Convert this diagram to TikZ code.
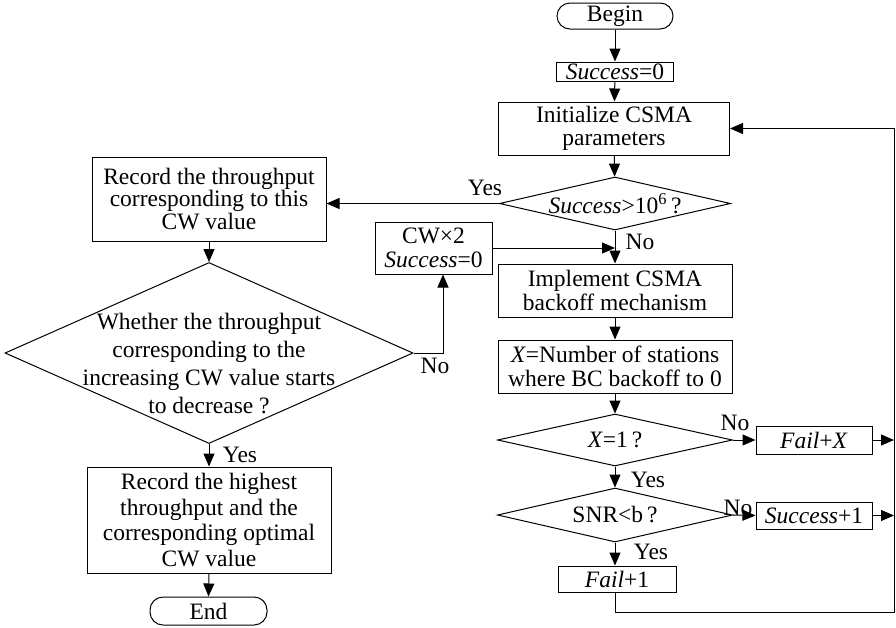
\documentclass[tikz,border=0pt]{standalone}
\usepackage{fontspec}
\setmainfont{Liberation Serif}
\usetikzlibrary{shapes.geometric,arrows.meta}
\tikzset{
  base/.style={draw, line width=1pt, inner sep=0pt, align=center,
    font=\fontsize{23.5}{23.5}\selectfont},
  box/.style={base, rectangle},
  term/.style={base, rectangle, rounded corners=13pt},
  dia/.style={draw, line width=1pt, diamond, inner sep=0pt},
  txt/.style={inner sep=0pt, align=center, font=\fontsize{23.5}{23.5}\selectfont},
  lbl/.style={inner sep=0pt, font=\fontsize{23.5}{23.5}\selectfont},
  arr/.style={line width=1pt, -{Triangle[length=13pt,width=11pt]}},
  ln/.style={line width=1pt}
}
\begin{document}
\begin{tikzpicture}[x=1pt,y=-1pt]
\useasboundingbox (0,0) rectangle (896,627);
% right column
\node[term, minimum width=116pt, minimum height=26pt] (begin) at (615,16) {Begin};
\node[box, minimum width=117pt, minimum height=19pt] (s0) at (615,71.5) {\textit{Success}=0};
\node[box, minimum width=231pt, minimum height=53pt] (init) at (614,128.5) {Initialize CSMA\\parameters};
\node[dia, minimum width=231pt, minimum height=53pt] (d1) at (615,203.5) {};
\node[txt] (d1t) at (615,203.5) {\textit{Success}>10\textsuperscript{6}\,?};
\node[box, minimum width=234pt, minimum height=53pt] (impl) at (615,290.5) {Implement CSMA\\backoff mechanism};
\node[box, minimum width=234pt, minimum height=53pt] (xnum) at (615,366.5) {\textit{X}=Number of stations\\where BC backoff to 0};
\node[dia, minimum width=235pt, minimum height=52pt] (d2) at (615,440) {};
\node[txt] (d2t) at (615,440) {\textit{X}=1\,?};
\node[box, minimum width=116pt, minimum height=28pt] (failx) at (814,440) {\textit{Fail}+\textit{X}};
\node[dia, minimum width=235pt, minimum height=54pt] (d3) at (615,515) {};
\node[txt] (d3t) at (615,515) {SNR<b\,?};
\node[box, minimum width=116pt, minimum height=27pt] (succ1) at (814,515.5) {\textit{Success}+1};
\node[box, minimum width=118pt, minimum height=26pt] (fail1) at (617,579) {\textit{Fail}+1};
% left column
\node[box, minimum width=234pt, minimum height=84pt, font=\fontsize{23.5}{22.5}\selectfont] (rec1) at (209,199) {Record the throughput\\corresponding to this\\CW value};
\node[box, minimum width=117pt, minimum height=52pt] (cw) at (433.5,248) {CW×2\\\textit{Success}=0};
\node[dia, minimum width=408pt, minimum height=181pt] (d4) at (209,353) {};
\node[txt, font=\fontsize{23.5}{28}\selectfont] (d4t) at (209,364) {Whether the throughput\\corresponding to the\\increasing CW value starts\\to decrease ?};
\node[box, minimum width=244pt, minimum height=106pt, font=\fontsize{23.5}{25.5}\selectfont] (rec2) at (209,520) {Record the highest\\throughput and the\\corresponding optimal\\CW value};
\node[term, minimum width=117pt, minimum height=28pt] (end) at (208.5,611) {End};
% coordinates
\coordinate (rx1) at (894,440);
\coordinate (rx2) at (894,515.5);
\coordinate (bl) at (615,612);
\coordinate (br) at (894,612);
\coordinate (cwx) at (443,353);
% connectors
\draw[arr] (begin) -- (s0);
\draw[arr] (s0) -- (init);
\draw[arr] (init) -- (d1);
\draw[arr] (d1) -- (impl);
\draw[arr] (impl) -- (xnum);
\draw[arr] (xnum) -- (d2);
\draw[arr] (d2.east) -- (failx.west);
\draw[arr] (d2.south) -- (d3.north);
\draw[arr] (d3.east) -- (succ1.west);
\draw[arr] (d3.south) -- (d3.south |- fail1.north);
\draw[arr] (failx.east) -- (rx1);
\draw[arr] (succ1.east) -- (rx2);
\draw[arr] (fail1.south -| bl) -- (bl) -- (br) |- (init.east);
\draw[arr] (d1.west) -- (rec1.east |- d1.west);
\draw[arr] (rec1.south) -- (d4.north);
\draw[arr] (d4.east) -- (cwx) -- (cwx |- cw.south);
\draw[arr] (cw.east) -- (cw.east -| d1.south);
\draw[arr] (d4.south) -- (rec2.north);
\draw[arr] (rec2.south) -- (end.north);
% labels
\node[lbl] (l1) at (485,188) {Yes};
\node[lbl] (l2) at (640,242) {No};
\node[lbl] (l3) at (435,366) {No};
\node[lbl] (l4) at (240,455) {Yes};
\node[lbl] (l5) at (735,423) {No};
\node[lbl] (l6) at (648,480) {Yes};
\node[lbl] (l7) at (738,508) {No};
\node[lbl] (l8) at (651,552) {Yes};
\end{tikzpicture}
\end{document}
